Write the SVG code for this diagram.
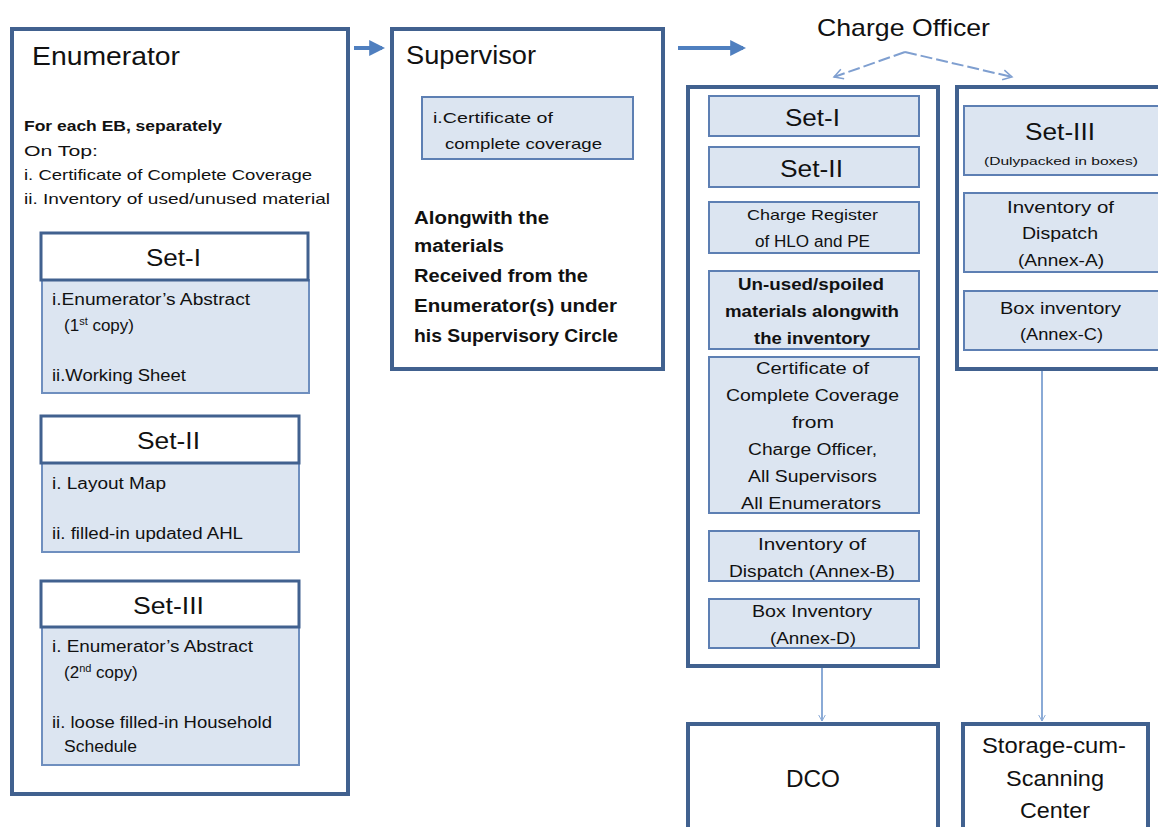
<svg xmlns="http://www.w3.org/2000/svg" width="1158" height="827" viewBox="0 0 1158 827">
<defs>
<style>
.t{font-family:"Liberation Sans",Arial,sans-serif;fill:#111}
.outer{fill:#fff;stroke:#41618f;stroke-width:4}
.hdr{fill:#fff;stroke:#41618f;stroke-width:3}
.body{fill:#dce5f1;stroke:#6f8fbf;stroke-width:2}
.ibox{fill:#dce5f1;stroke:#5d7fb3;stroke-width:2}
.b{font-weight:bold}
.arr{stroke:#4f7fbf;stroke-width:4;fill:none}
.conn{stroke:#8aaad6;stroke-width:2;fill:none}
.dash{stroke:#7f9fd0;stroke-width:2;fill:none;stroke-dasharray:12 4}
</style>
<marker id="ah" viewBox="0 0 10 10" refX="8" refY="5" markerWidth="4" markerHeight="4" orient="auto"><path d="M0,0 L10,5 L0,10 z" fill="#4f7fbf"/></marker>
<marker id="oa" viewBox="0 0 12 12" refX="10" refY="6" markerWidth="8" markerHeight="8" orient="auto" markerUnits="userSpaceOnUse"><path d="M1,1 L10,6 L1,11" fill="none" stroke="#8aaad6" stroke-width="1.5"/></marker>
<marker id="oa2" viewBox="0 0 12 12" refX="10" refY="6" markerWidth="12" markerHeight="12" orient="auto" markerUnits="userSpaceOnUse"><path d="M1,1 L10,6 L1,11" fill="none" stroke="#7f9fd0" stroke-width="1.5"/></marker>
</defs>
<rect width="1158" height="827" fill="#fff"/>

<g id="connectors">
<line class="arr" x1="354" y1="48" x2="382" y2="48" marker-end="url(#ah)"/>
<line class="arr" x1="678" y1="48" x2="743" y2="48" marker-end="url(#ah)"/>
<polyline class="dash" points="905,52 834,77" marker-end="url(#oa2)"/>
<polyline class="dash" points="905,52 1012,77" marker-end="url(#oa2)"/>
<line class="conn" x1="822" y1="668" x2="822" y2="721" marker-end="url(#oa)"/>
<line class="conn" x1="1042" y1="371" x2="1042" y2="721" marker-end="url(#oa)"/>
</g>

<g id="enumerator">
<rect class="outer" x="12" y="29" width="336" height="765"/>
<text class="t" x="32" y="65" font-size="25" textLength="148" lengthAdjust="spacingAndGlyphs">Enumerator</text>
<text class="t b" x="24" y="131" font-size="15" textLength="198" lengthAdjust="spacingAndGlyphs">For each EB, separately</text>
<text class="t" x="24" y="156" font-size="15" textLength="74" lengthAdjust="spacingAndGlyphs">On Top:</text>
<text class="t" x="24" y="180" font-size="15" textLength="288" lengthAdjust="spacingAndGlyphs">i. Certificate of Complete Coverage</text>
<text class="t" x="24" y="204" font-size="15" textLength="306" lengthAdjust="spacingAndGlyphs">ii. Inventory of used/unused  material</text>
</g>

<g id="enum-set1">
<rect class="body" x="42" y="280" width="267" height="113"/>
<rect class="hdr" x="41" y="233" width="267" height="47"/>
<text class="t" x="146" y="266" font-size="24" textLength="55" lengthAdjust="spacingAndGlyphs">Set-I</text>
<text class="t" x="52" y="305" font-size="16" textLength="198" lengthAdjust="spacingAndGlyphs">i.Enumerator’s Abstract</text>
<text class="t" x="64" y="331" font-size="17">(1<tspan font-size="11" dy="-6">st</tspan><tspan dy="6"> copy)</tspan></text>
<text class="t" x="52" y="381" font-size="16" textLength="134" lengthAdjust="spacingAndGlyphs">ii.Working Sheet</text>
</g>

<g id="enum-set2">
<rect class="body" x="42" y="463" width="257" height="89"/>
<rect class="hdr" x="41" y="416" width="258" height="47"/>
<text class="t" x="137" y="449" font-size="24" textLength="63" lengthAdjust="spacingAndGlyphs">Set-II</text>
<text class="t" x="52" y="489" font-size="16" textLength="114" lengthAdjust="spacingAndGlyphs">i. Layout Map</text>
<text class="t" x="52" y="539" font-size="16" textLength="191" lengthAdjust="spacingAndGlyphs">ii. filled-in updated AHL</text>
</g>

<g id="enum-set3">
<rect class="body" x="42" y="627" width="257" height="138"/>
<rect class="hdr" x="41" y="581" width="258" height="46"/>
<text class="t" x="133" y="614" font-size="24" textLength="71" lengthAdjust="spacingAndGlyphs">Set-III</text>
<text class="t" x="52" y="652" font-size="16" textLength="201" lengthAdjust="spacingAndGlyphs">i. Enumerator’s Abstract</text>
<text class="t" x="64" y="678" font-size="17">(2<tspan font-size="11" dy="-6">nd</tspan><tspan dy="6"> copy)</tspan></text>
<text class="t" x="52" y="728" font-size="16" textLength="220" lengthAdjust="spacingAndGlyphs">ii. loose filled-in Household</text>
<text class="t" x="64" y="752" font-size="16" textLength="73" lengthAdjust="spacingAndGlyphs">Schedule</text>
</g>

<g id="supervisor">
<rect class="outer" x="392" y="29" width="271" height="340"/>
<text class="t" x="406" y="64" font-size="25" textLength="130" lengthAdjust="spacingAndGlyphs">Supervisor</text>
<rect class="ibox" x="422" y="97" width="211" height="62"/>
<text class="t" x="433" y="123" font-size="15" textLength="120" lengthAdjust="spacingAndGlyphs">i.Certificate of</text>
<text class="t" x="445" y="149" font-size="15" textLength="157" lengthAdjust="spacingAndGlyphs">complete coverage</text>
<text class="t b" x="414" y="224" font-size="18" textLength="135" lengthAdjust="spacingAndGlyphs">Alongwith the</text>
<text class="t b" x="414" y="252" font-size="18" textLength="90" lengthAdjust="spacingAndGlyphs">materials</text>
<text class="t b" x="414" y="282" font-size="18" textLength="174" lengthAdjust="spacingAndGlyphs">Received from the</text>
<text class="t b" x="414" y="312" font-size="18" textLength="203" lengthAdjust="spacingAndGlyphs">Enumerator(s) under</text>
<text class="t b" x="414" y="342" font-size="18" textLength="204" lengthAdjust="spacingAndGlyphs">his Supervisory Circle</text>
</g>

<g id="charge-officer">
<text class="t" x="817" y="36" font-size="24" textLength="173" lengthAdjust="spacingAndGlyphs">Charge Officer</text>
</g>

<g id="co-left">
<rect class="outer" x="688" y="87" width="250" height="579"/>
<rect class="ibox" x="709" y="96" width="210" height="40"/>
<text class="t" x="785" y="126" font-size="24" textLength="55" lengthAdjust="spacingAndGlyphs">Set-I</text>
<rect class="ibox" x="709" y="147" width="210" height="40"/>
<text class="t" x="780" y="177" font-size="24" textLength="63" lengthAdjust="spacingAndGlyphs">Set-II</text>
<rect class="ibox" x="709" y="202" width="210" height="51"/>
<text class="t" x="747" y="220" font-size="15" textLength="131" lengthAdjust="spacingAndGlyphs">Charge Register</text>
<text class="t" x="755" y="247" font-size="16" textLength="115" lengthAdjust="spacingAndGlyphs">of HLO and PE</text>
<rect class="ibox" x="709" y="271" width="210" height="78"/>
<text class="t b" x="738" y="290" font-size="16" textLength="146" lengthAdjust="spacingAndGlyphs">Un-used/spoiled</text>
<text class="t b" x="725" y="317" font-size="16" textLength="174" lengthAdjust="spacingAndGlyphs">materials alongwith</text>
<text class="t b" x="754" y="344" font-size="16" textLength="116" lengthAdjust="spacingAndGlyphs">the inventory</text>
<rect class="ibox" x="709" y="357" width="210" height="156"/>
<text class="t" x="756" y="374" font-size="16" textLength="113" lengthAdjust="spacingAndGlyphs">Certificate of</text>
<text class="t" x="726" y="401" font-size="16" textLength="173" lengthAdjust="spacingAndGlyphs">Complete Coverage</text>
<text class="t" x="792" y="428" font-size="16" textLength="42" lengthAdjust="spacingAndGlyphs">from</text>
<text class="t" x="748" y="455" font-size="16" textLength="129" lengthAdjust="spacingAndGlyphs">Charge Officer,</text>
<text class="t" x="748" y="482" font-size="16" textLength="129" lengthAdjust="spacingAndGlyphs">All Supervisors</text>
<text class="t" x="741" y="509" font-size="16" textLength="140" lengthAdjust="spacingAndGlyphs">All Enumerators</text>
<rect class="ibox" x="709" y="531" width="210" height="50"/>
<text class="t" x="758" y="550" font-size="16" textLength="108" lengthAdjust="spacingAndGlyphs">Inventory of</text>
<text class="t" x="729" y="577" font-size="16" textLength="166" lengthAdjust="spacingAndGlyphs">Dispatch (Annex-B)</text>
<rect class="ibox" x="709" y="599" width="210" height="49"/>
<text class="t" x="752" y="617" font-size="16" textLength="120" lengthAdjust="spacingAndGlyphs">Box Inventory</text>
<text class="t" x="770" y="644" font-size="16" textLength="86" lengthAdjust="spacingAndGlyphs">(Annex-D)</text>
</g>

<g id="co-right">
<rect class="outer" x="957" y="87" width="205" height="282"/>
<rect class="ibox" x="964" y="106" width="196" height="69"/>
<text class="t" x="1025" y="140" font-size="24" textLength="70" lengthAdjust="spacingAndGlyphs">Set-III</text>
<text class="t" x="984" y="165" font-size="11" textLength="154" lengthAdjust="spacingAndGlyphs">(Dulypacked in boxes)</text>
<rect class="ibox" x="964" y="193" width="196" height="79"/>
<text class="t" x="1007" y="213" font-size="17" textLength="107" lengthAdjust="spacingAndGlyphs">Inventory of</text>
<text class="t" x="1022" y="239" font-size="17" textLength="76" lengthAdjust="spacingAndGlyphs">Dispatch</text>
<text class="t" x="1018" y="266" font-size="17" textLength="86" lengthAdjust="spacingAndGlyphs">(Annex-A)</text>
<rect class="ibox" x="964" y="291" width="196" height="59"/>
<text class="t" x="1000" y="314" font-size="17" textLength="121" lengthAdjust="spacingAndGlyphs">Box inventory</text>
<text class="t" x="1020" y="340" font-size="17" textLength="83" lengthAdjust="spacingAndGlyphs">(Annex-C)</text>
</g>

<g id="dco">
<rect class="outer" x="688" y="724" width="250" height="110"/>
<text class="t" x="786" y="787" font-size="24" textLength="54" lengthAdjust="spacingAndGlyphs">DCO</text>
</g>

<g id="storage">
<rect class="outer" x="963" y="724" width="185" height="110"/>
<text class="t" x="982" y="753" font-size="22" textLength="144" lengthAdjust="spacingAndGlyphs">Storage-cum-</text>
<text class="t" x="1006" y="786" font-size="22" textLength="98" lengthAdjust="spacingAndGlyphs">Scanning</text>
<text class="t" x="1020" y="818" font-size="22" textLength="70" lengthAdjust="spacingAndGlyphs">Center</text>
</g>
</svg>
